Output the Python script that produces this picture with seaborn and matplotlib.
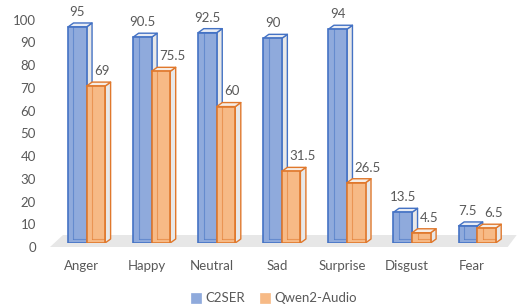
import matplotlib
matplotlib.use("Agg")
import matplotlib.pyplot as plt
from matplotlib.patches import Polygon, Patch
from matplotlib.transforms import ScaledTranslation
import seaborn as sns
import pandas as pd

categories = ["Anger", "Happy", "Neutral", "Sad", "Surprise", "Disgust", "Fear"]
c2ser = [95, 90.5, 92.5, 90, 94, 13.5, 7.5]
qwen = [69, 75.5, 60, 31.5, 26.5, 4.5, 6.5]
series_names = ["C2SER", "Qwen2-Audio"]
yticks = [0, 10, 20, 30, 40, 50, 60, 70, 80, 90, 100]

df = pd.DataFrame({
    "Emotion": categories * 2,
    "Score": c2ser + qwen,
    "Model": [series_names[0]] * len(categories) + [series_names[1]] * len(categories),
})

sns.set_theme(style="white")
plt.rcParams["font.family"] = ["Lato", "DejaVu Sans"]

W, H = 523, 305
fig = plt.figure(figsize=(W / 100, H / 100), dpi=100)
ax_w, ax_h = 455.7, 227.4
ax = fig.add_axes([54 / W, 62 / H, ax_w / W, ax_h / H])

face_cols = ["#8FAADC", "#F7BA86"]
edge_cols = ["#4472C4", "#E0782C"]
top_cols = ["#E8ECF4", "#F6EDE5"]
side_col = "#E8E8E8"
text_col = "#595959"

sns.barplot(data=df, x="Emotion", y="Score", hue="Model", palette=face_cols,
            width=0.57, saturation=1, ax=ax, legend=False, linewidth=1.2)
bars = list(ax.patches)
ax.set_xlim(-0.5, 6.5)
ax.set_ylim(0, 100)

px_x = ax_w / 7.0
px_y = ax_h / 100.0
DX = 5.5 / px_x
DY = 4.0 / px_y

# floor
fy0, fy1 = -4 / px_y, 8 / px_y
floor = Polygon([(-0.5 - 4 / px_x, fy0), (6.5 - 2 / px_x, fy0),
                 (6.5 + 7 / px_x, fy1), (-0.5 + 9 / px_x, fy1)],
                closed=True, facecolor="#E7E7E7", edgecolor="none", zorder=0.5,
                clip_on=False)
ax.add_patch(floor)

n = len(categories)
for i, p in enumerate(bars):
    s = i // n
    z = 2 + s
    ec = edge_cols[s]
    p.set_edgecolor(ec)
    p.set_zorder(z + 0.2)
    x0, w, h = p.get_x(), p.get_width(), p.get_height()
    side = Polygon([(x0 + w, 0), (x0 + w + DX, DY), (x0 + w + DX, h + DY), (x0 + w, h)],
                   closed=True, facecolor=side_col, edgecolor=ec, lw=1.0, zorder=z,
                   joinstyle="round")
    top = Polygon([(x0, h), (x0 + w, h), (x0 + w + DX, h + DY), (x0 + DX, h + DY)],
                  closed=True, facecolor=top_cols[s], edgecolor=ec, lw=1.0, zorder=z,
                  joinstyle="round")
    ax.add_patch(side)
    ax.add_patch(top)
    ax.plot([x0 + DX, x0 + DX], [DY, h], color=ec, lw=0.8, alpha=0.55, zorder=z + 0.3)
    ax.plot([x0 + DX, x0 + w], [DY, DY], color=ec, lw=0.8, alpha=0.55, zorder=z + 0.3)
    if s == 0:
        ax.annotate(f"{h:g}", xy=(x0 + w / 2, h + DY), xytext=(0, 8),
                    textcoords="offset points", ha="center", va="center",
                    fontsize=9.5, color=text_col, zorder=10, annotation_clip=False)
    else:
        ax.annotate(f"{h:g}", xy=(x0 + DX, h + DY), xytext=(1.5, 8),
                    textcoords="offset points", ha="left", va="center",
                    fontsize=9.5, color=text_col, zorder=10, annotation_clip=False)

for sp in ax.spines.values():
    sp.set_visible(False)
ax.set_xlabel("")
ax.set_ylabel("")
ax.set_yticks(yticks)
ax.tick_params(axis="y", length=0, pad=13, labelsize=9.5, labelcolor=text_col)
ax.tick_params(axis="x", length=0, pad=12, labelsize=9.5, labelcolor=text_col)
for lab in ax.get_yticklabels():
    lab.set_transform(lab.get_transform() + ScaledTranslation(0, -0.04, fig.dpi_scale_trans))
for lab in ax.get_xticklabels():
    lab.set_transform(lab.get_transform() + ScaledTranslation(-0.05, 0, fig.dpi_scale_trans))
ax.grid(False)

handles = [Patch(facecolor=face_cols[k], edgecolor=face_cols[k], lw=0.5) for k in range(2)]
fig.legend(handles, series_names, loc="center", bbox_to_anchor=(274 / W, 6.5 / H), ncol=2,
           frameon=False, handlelength=0.75, handleheight=0.75, handletextpad=0.3,
           columnspacing=1.2, fontsize=9.5, labelcolor=text_col)

fig.savefig("out.png", dpi=100, facecolor="white")
